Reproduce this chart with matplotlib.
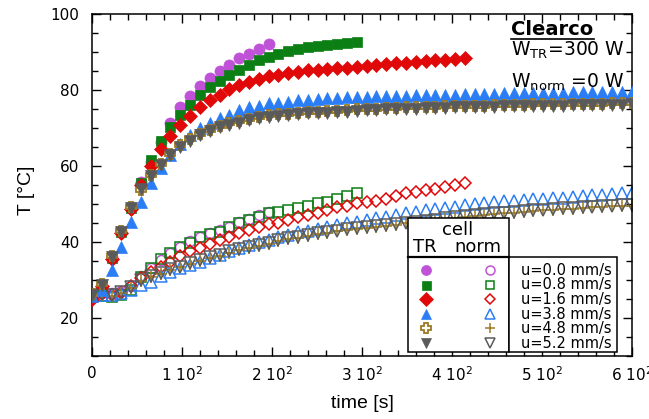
import numpy as np
import matplotlib
matplotlib.use("Agg")
import matplotlib.pyplot as plt
from matplotlib.patches import Rectangle
from matplotlib.lines import Line2D
from matplotlib.ticker import MultipleLocator

# sampling step of the logger [s]
DT = 10.9

# TR cell (filled markers)
tr_u00 = [26.0, 28.5, 36.0, 42.8, 49.2, 55.9, 61.1, 66.4, 71.4, 75.4, 78.4, 81.1, 83.1, 85.1, 86.6,
          88.3, 89.4, 90.7, 92.1]
tr_u08 = [25.5, 28.5, 35.8, 42.6, 49.0, 55.5, 61.6, 66.7, 70.3, 73.4, 76.1, 78.7, 80.9, 82.4, 83.9,
          85.3, 86.6, 87.9, 88.8, 89.6, 90.3, 90.7, 91.2, 91.6, 91.9, 92.1, 92.3, 92.5]
tr_u16 = [25.0, 28.3, 35.6, 42.4, 48.8, 55.0, 60.1, 64.4, 67.9, 70.8, 73.2, 75.4, 77.4, 78.7, 80.2,
          81.3, 82.2, 82.8, 83.7, 83.9, 84.6, 84.8, 85.3, 85.3, 85.4, 85.7, 85.9, 86.1, 86.4, 86.6,
          86.8, 87.0, 87.2, 87.4, 87.6, 87.8, 88.0, 88.1, 88.3]
tr_u38 = [25.8, 27.5, 32.6, 38.8, 45.3, 50.6, 55.4, 59.5, 63.0, 65.8, 68.2, 69.9, 71.2, 72.6, 73.4,
          74.7, 75.6, 75.8, 76.5, 76.7, 76.9, 77.4, 77.4, 77.5, 77.8, 77.8, 78.1, 78.1, 78.2, 78.3,
          78.4, 78.4, 78.5, 78.6, 78.6, 78.7, 78.8, 78.8, 78.9, 78.9, 79.0, 79.0, 79.1, 79.1, 79.2,
          79.2, 79.3, 79.3, 79.3, 79.4, 79.4, 79.5, 79.5, 79.5, 79.6, 79.6]
tr_u48 = [26.2, 28.9, 36.2, 42.9, 49.1, 53.8, 57.6, 60.6, 63.2, 65.4, 67.0, 68.5, 69.6, 70.5, 71.2,
          71.8, 72.4, 72.9, 73.3, 73.6, 73.8, 74.0, 74.2, 74.3, 74.4, 74.6, 74.7, 74.9, 75.0, 75.1,
          75.2, 75.3, 75.4, 75.5, 75.6, 75.6, 75.7, 75.8, 75.8, 75.9, 75.9, 76.0, 76.0, 76.1, 76.1,
          76.2, 76.2, 76.2, 76.3, 76.3, 76.4, 76.4, 76.4, 76.5, 76.5, 76.6]
tr_u52 = [26.0, 28.7, 36.0, 42.7, 48.9, 54.0, 57.4, 60.3, 62.9, 65.1, 66.7, 68.2, 69.3, 70.2, 70.8,
          71.4, 72.1, 72.6, 73.0, 73.2, 73.4, 73.7, 73.9, 73.9, 74.0, 74.3, 74.3, 74.6, 74.7, 74.8,
          74.9, 75.0, 75.1, 75.1, 75.2, 75.3, 75.3, 75.4, 75.5, 75.5, 75.6, 75.6, 75.7, 75.7, 75.8,
          75.8, 75.8, 75.9, 75.9, 76.0, 76.0, 76.0, 76.1, 76.1, 76.1, 76.2]

# norm cell (open markers)
nc_u00 = [26.5, 26.6, 26.5, 27.0, 28.5, 31.0, 33.1, 35.3, 37.0, 38.8, 40.3, 41.4, 42.3, 43.2, 44.0,
          45.3, 46.0, 47.1, 48.0]
nc_u08 = [25.5, 25.7, 25.6, 26.0, 27.5, 30.8, 33.2, 35.5, 37.0, 38.8, 39.8, 41.4, 42.1, 42.7, 43.9,
          44.9, 45.8, 46.7, 47.5, 48.0, 48.5, 49.0, 49.6, 50.2, 50.6, 51.2, 52.1, 53.0]
nc_u16 = [25.3, 26.3, 26.1, 26.6, 28.3, 30.5, 32.2, 33.5, 34.8, 36.3, 37.5, 38.3, 39.5, 40.5, 41.4,
          42.3, 43.2, 44.0, 44.7, 45.1, 45.8, 46.5, 47.1, 47.7, 48.4, 49.1, 49.5, 50.2, 50.5, 50.9,
          51.3, 52.1, 52.8, 53.2, 53.7, 53.9, 54.6, 55.0, 55.4]
nc_u38 = [25.8, 26.0, 26.0, 26.6, 27.4, 28.7, 29.6, 31.1, 32.2, 33.1, 33.9, 34.8, 35.7, 36.6, 37.6,
          38.3, 39.2, 40.0, 40.5, 41.3, 41.8, 42.5, 43.0, 43.3, 44.0, 44.5, 44.9, 45.2, 45.8, 46.2,
          46.7, 47.1, 47.6, 48.0, 48.3, 48.6, 49.0, 49.3, 49.7, 49.9, 50.2, 50.4, 50.7, 50.9, 51.1,
          51.2, 51.4, 51.5, 51.7, 51.9, 52.1, 52.3, 52.4, 52.6, 52.8, 52.9]
nc_u48 = [25.8, 26.1, 25.9, 26.7, 28.0, 29.7, 30.8, 31.6, 32.6, 33.3, 34.2, 35.0, 35.7, 36.4, 37.2,
          37.8, 38.5, 39.0, 39.6, 40.2, 40.7, 41.1, 41.6, 42.0, 42.4, 42.8, 43.1, 43.4, 43.7, 44.0,
          44.3, 44.6, 44.9, 45.1, 45.4, 45.7, 46.0, 46.3, 46.5, 46.8, 47.0, 47.3, 47.5, 47.7, 47.9,
          48.1, 48.3, 48.5, 48.6, 48.8, 49.0, 49.1, 49.2, 49.4, 49.5, 49.6]
nc_u52 = [25.9, 26.3, 26.1, 26.9, 28.2, 30.0, 31.1, 31.8, 32.8, 33.5, 34.4, 35.3, 36.0, 36.6, 37.5,
          38.1, 38.8, 39.2, 39.8, 40.5, 41.0, 41.4, 41.8, 42.3, 42.7, 43.0, 43.3, 43.6, 43.9, 44.2,
          44.5, 44.8, 45.1, 45.3, 45.6, 45.9, 46.2, 46.5, 46.8, 47.0, 47.3, 47.5, 47.7, 47.9, 48.1,
          48.3, 48.5, 48.7, 48.9, 49.0, 49.2, 49.3, 49.5, 49.6, 49.7, 49.8]

speeds = ["u=0.0 mm/s", "u=0.8 mm/s", "u=1.6 mm/s", "u=3.8 mm/s", "u=4.8 mm/s", "u=5.2 mm/s"]
tr_data = [tr_u00, tr_u08, tr_u16, tr_u38, tr_u48, tr_u52]
nc_data = [nc_u00, nc_u08, nc_u16, nc_u38, nc_u48, nc_u52]

xticks = [0, 100, 200, 300, 400, 500, 600]
xticklabels = ["0", "1 10$^2$", "2 10$^2$", "3 10$^2$", "4 10$^2$", "5 10$^2$", "6 10$^2$"]
yticks = [20, 40, 60, 80, 100]

colors = ["#c052d8", "#0b7f14", "#e00808", "#2b7df5", "#9c7a22", "#5a5a5a"]
# (marker, size, facecolor) for the TR (filled) and norm (open) symbols
tr_style = [("o", 8.0, None), ("s", 7.2, None), ("D", 7.6, None), ("^", 8.2, None),
            ("P", 7.5, "white"), ("v", 8.2, None)]
nc_style = [("o", 7.2), ("s", 7.0), ("D", 6.2), ("^", 8.0), ("+", 8.0), ("v", 8.0)]

fig = plt.figure(figsize=(6.49, 4.19), dpi=100)
ax = fig.add_axes([92 / 649, 63 / 419, 540 / 649, 342 / 419])

for vals, col, (m, ms, fc) in zip(tr_data, colors, tr_style):
    t = np.arange(len(vals)) * DT
    ax.plot(t, vals, linestyle="none", marker=m, ms=ms, color=col,
            mfc=fc if fc else col, mec=col, mew=1.3 if fc else 0.5, zorder=3)

for vals, col, (m, ms) in zip(nc_data, colors, nc_style):
    t = np.arange(len(vals)) * DT
    ax.plot(t, vals, linestyle="none", marker=m, ms=ms, color=col,
            mfc="none", mec=col, mew=1.1, zorder=2)

ax.set_xlim(0, 600)
ax.set_ylim(10, 100)
ax.set_xticks(xticks)
ax.set_xticklabels(xticklabels, fontsize=11)
ax.set_yticks(yticks)
ax.set_yticklabels([str(v) for v in yticks], fontsize=11)
ax.xaxis.set_minor_locator(MultipleLocator(20))
ax.yaxis.set_minor_locator(MultipleLocator(5))
ax.tick_params(which="both", direction="in", top=True, right=True, width=1)
ax.tick_params(which="major", length=6.5)
ax.tick_params(which="minor", length=4)
ax.tick_params(axis="x", pad=7)
ax.tick_params(axis="y", pad=9)
for s in ax.spines.values():
    s.set_linewidth(1.1)

ax.set_xlabel("time [s]", fontsize=14, family="Liberation Sans")
ax.set_ylabel("T [°C]", fontsize=14, family="Liberation Sans")
ax.xaxis.set_label_coords(0.5, -0.115)
ax.yaxis.set_label_coords(-0.105, 0.485)

# annotation in the top right corner
ax.text(0.776, 0.9386, "Clearco", transform=ax.transAxes, fontsize=14, fontweight="bold",
        va="baseline", zorder=7)
ax.add_line(Line2D([0.776, 0.93], [0.926, 0.926], transform=ax.transAxes, color="black", lw=1.2))
ax.text(0.776, 0.877, r"W$_{\mathrm{TR}}$=300 W", transform=ax.transAxes, fontsize=13.5,
        va="baseline", zorder=7)
ax.text(0.776, 0.784, r"W$_{\mathrm{norm}}$ =0 W", transform=ax.transAxes, fontsize=13.5,
        va="baseline", zorder=7)

# hand made legend: two boxes, TR / norm symbols + labels
fx = lambda px: (px - 92) / 540
fy = lambda py: (356 - py) / 342
ax.add_patch(Rectangle((fx(408.3), fy(351.7)), fx(509.3) - fx(408.3), fy(218.3) - fy(351.7),
                       transform=ax.transAxes, fc="white", ec="black", lw=1.1, zorder=5))
ax.add_patch(Rectangle((fx(509.3), fy(351.7)), fx(617.3) - fx(509.3), fy(256.7) - fy(351.7),
                       transform=ax.transAxes, fc="white", ec="black", lw=1.1, zorder=5))
ax.add_line(Line2D([fx(408.3), fx(509.3)], [fy(256.7), fy(256.7)], transform=ax.transAxes,
                   color="black", lw=1.6, zorder=6))
ax.text(fx(458), fy(230), "cell", transform=ax.transAxes, fontsize=13, ha="center", va="center",
        zorder=7)
ax.text(fx(425), fy(247), "TR", transform=ax.transAxes, fontsize=13, ha="center", va="center",
        zorder=7)
ax.text(fx(478), fy(247), "norm", transform=ax.transAxes, fontsize=13, ha="center", va="center",
        zorder=7)

row_y = [270, 284.7, 299.3, 314, 328.3, 343.3]
for i, lab in enumerate(speeds):
    y = fy(row_y[i])
    m, ms, fc = tr_style[i]
    ax.plot([fx(426)], [y], transform=ax.transAxes, linestyle="none", marker=m, ms=ms * 0.9,
            color=colors[i], mfc=fc if fc else colors[i], mec=colors[i],
            mew=1.3 if fc else 0.5, zorder=7, clip_on=False)
    m2, ms2 = nc_style[i]
    ax.plot([fx(490)], [y], transform=ax.transAxes, linestyle="none", marker=m2, ms=ms2 * 0.9,
            mfc="none", mec=colors[i], mew=1.1, zorder=7, clip_on=False)
    ax.text(fx(520.7), y, lab, transform=ax.transAxes, fontsize=10.5, va="center", zorder=7)

fig.savefig("out.png", dpi=100)
